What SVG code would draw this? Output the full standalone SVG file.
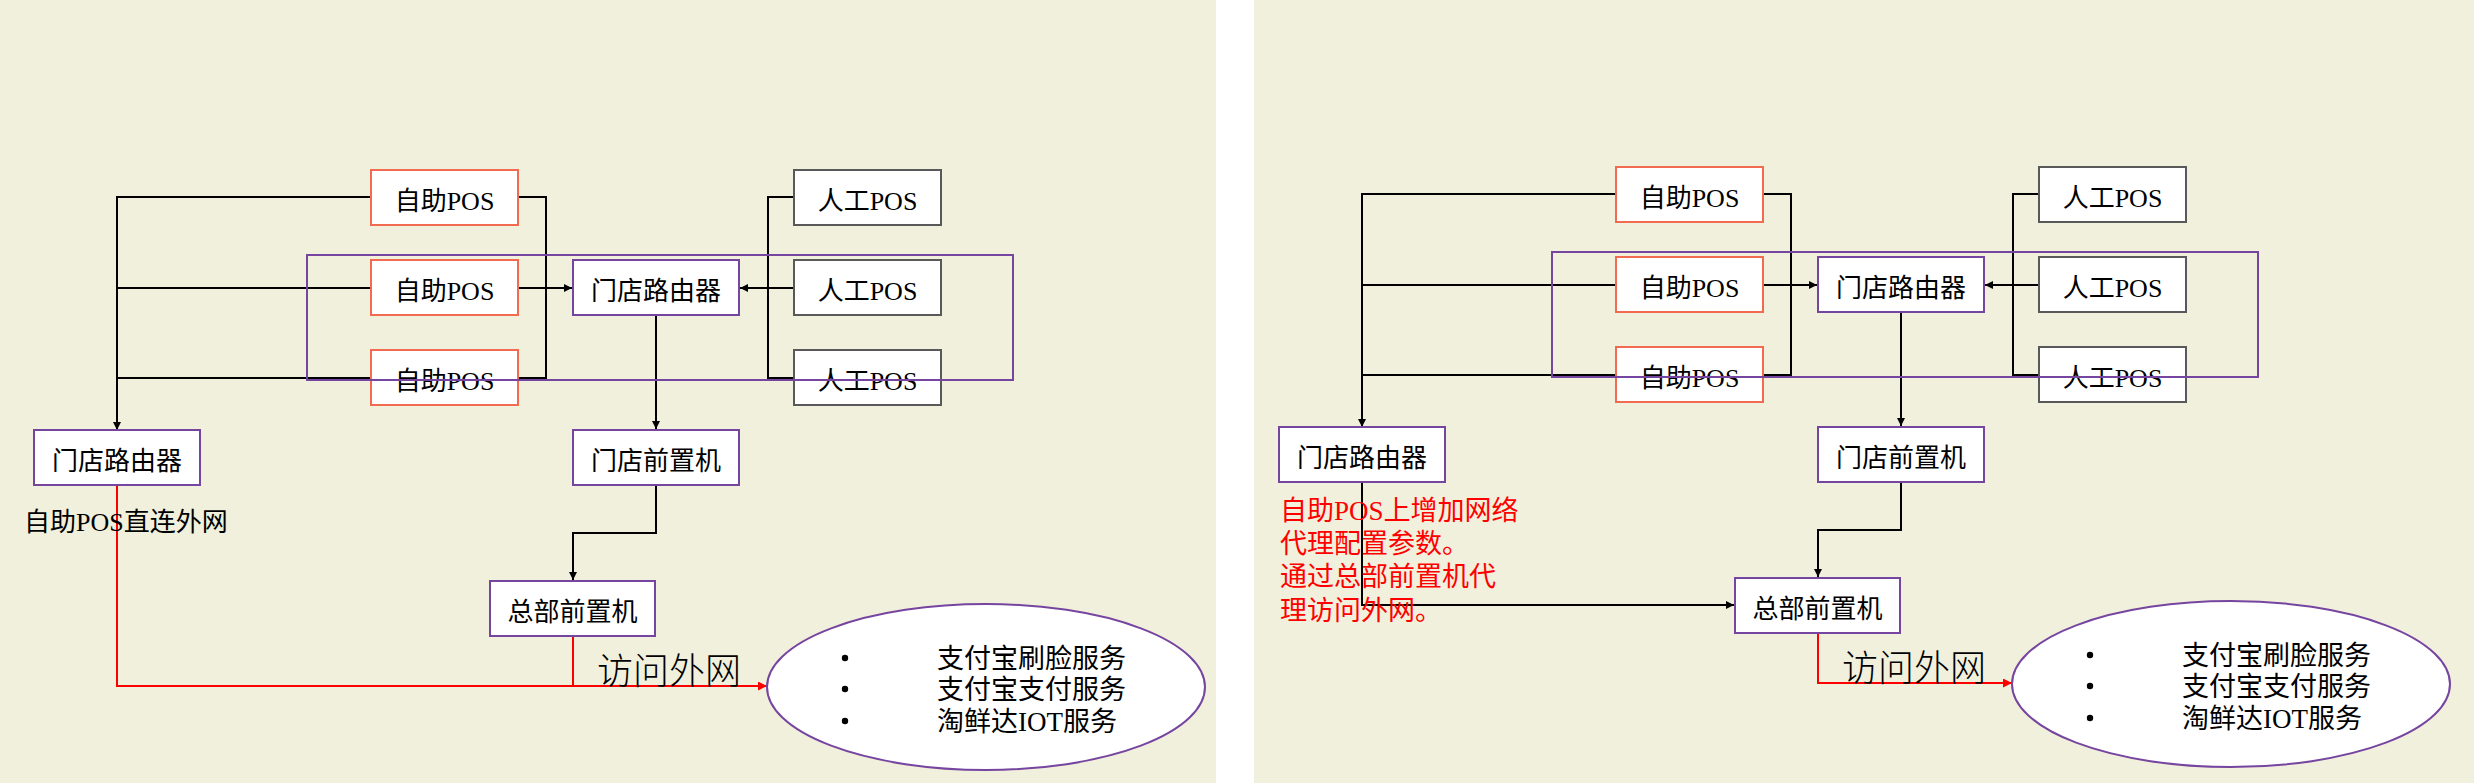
<svg xmlns="http://www.w3.org/2000/svg" width="2474" height="783" viewBox="0 0 2474 783">
<defs>
<style>
.bg{fill:#F1F0DC}
.self{fill:#fff;stroke:#F26B50;stroke-width:2}
.man{fill:#fff;stroke:#595959;stroke-width:2}
.pur{fill:#fff;stroke:#7645A0;stroke-width:2}
.grp{fill:none;stroke:#7645A0;stroke-width:2}
.ell{fill:#fff;stroke:#7645A0;stroke-width:2}
.c{fill:none;stroke:#000;stroke-width:2}
.cr{fill:none;stroke:#FF0000;stroke-width:2}
text{font-family:"Liberation Serif","Noto Sans CJK SC",serif;font-size:26px;fill:#000}
.ctr{text-anchor:middle}
.big{font-size:36px;font-weight:300}
.svc{font-size:27px}
.red{fill:#FF0000;font-size:27px}
</style>
<marker id="ab" viewBox="0 0 10 10" refX="10" refY="5" markerWidth="9" markerHeight="8" markerUnits="userSpaceOnUse" orient="auto"><path d="M0,0 L10,5 L0,10 z" fill="#000"/></marker>
<marker id="ar" viewBox="0 0 10 10" refX="10" refY="5" markerWidth="10" markerHeight="9" markerUnits="userSpaceOnUse" orient="auto"><path d="M0,0 L10,5 L0,10 z" fill="#FF0000"/></marker>
</defs>
<rect class="bg" x="0" y="0" width="1216" height="783"/>
<rect class="bg" x="1254" y="0" width="1220" height="783"/>

<!-- LEFT PANEL -->
<g id="left-panel">
<g id="L-connectors">
<path class="c" d="M371,197 H117 V430" marker-end="url(#ab)"/>
<path class="c" d="M371,288 H117"/>
<path class="c" d="M371,378 H117"/>
<path class="c" d="M518,197 H546 V378 H518"/>
<path class="c" d="M518,288 H572" marker-end="url(#ab)"/>
<path class="c" d="M794,197 H768 V378 H794"/>
<path class="c" d="M794,288 H740" marker-end="url(#ab)"/>
<path class="c" d="M656,315 V429" stroke-width="1.6" marker-end="url(#ab)"/>
<path class="c" d="M656,485 V533 H573 V580" marker-end="url(#ab)"/>
<path class="cr" d="M117,485 V686 H767" marker-end="url(#ar)"/>
<path class="cr" d="M573,636 V686"/>
</g>
<g id="L-selfpos1"><rect class="self" x="371" y="170" width="147" height="55"/><text class="ctr" x="444.5" y="210">自助POS</text></g>
<g id="L-selfpos2"><rect class="self" x="371" y="260" width="147" height="55"/><text class="ctr" x="444.5" y="300">自助POS</text></g>
<g id="L-selfpos3"><rect class="self" x="371" y="350" width="147" height="55"/><text class="ctr" x="444.5" y="390">自助POS</text></g>
<g id="L-manpos1"><rect class="man" x="794" y="170" width="147" height="55"/><text class="ctr" x="867.5" y="210">人工POS</text></g>
<g id="L-manpos2"><rect class="man" x="794" y="260" width="147" height="55"/><text class="ctr" x="867.5" y="300">人工POS</text></g>
<g id="L-manpos3"><rect class="man" x="794" y="350" width="147" height="55"/><text class="ctr" x="867.5" y="390">人工POS</text></g>
<g id="L-storerouter"><rect class="pur" x="573" y="260" width="166" height="55"/><text class="ctr" x="656" y="300">门店路由器</text></g>
<g id="L-group"><rect class="grp" x="307" y="255" width="706" height="125"/></g>
<g id="L-leftrouter"><rect class="pur" x="34" y="430" width="166" height="55"/><text class="ctr" x="117" y="470">门店路由器</text></g>
<g id="L-storefront"><rect class="pur" x="573" y="430" width="166" height="55"/><text class="ctr" x="656" y="470">门店前置机</text></g>
<g id="L-hqfront"><rect class="pur" x="490" y="581" width="165" height="55"/><text class="ctr" x="572.5" y="621">总部前置机</text></g>
<g id="L-services">
<ellipse class="ell" cx="986" cy="687" rx="219" ry="83"/>
<circle cx="845" cy="658" r="3.2"/><circle cx="845" cy="689" r="3.2"/><circle cx="845" cy="721" r="3.2"/>
<text class="svc" x="937" y="668">支付宝刷脸服务</text>
<text class="svc" x="937" y="699">支付宝支付服务</text>
<text class="svc" x="937" y="731">淘鲜达IOT服务</text>
</g>
<text x="24" y="531">自助POS直连外网</text>
<text class="big" x="597" y="684">访问外网</text>
</g>

<!-- RIGHT PANEL -->
<g id="right-panel" transform="translate(1245,-3)">
<g id="R-connectors">
<path class="c" d="M371,197 H117 V430" marker-end="url(#ab)"/>
<path class="c" d="M371,288 H117"/>
<path class="c" d="M371,378 H117"/>
<path class="c" d="M518,197 H546 V378 H518"/>
<path class="c" d="M518,288 H572" marker-end="url(#ab)"/>
<path class="c" d="M794,197 H768 V378 H794"/>
<path class="c" d="M794,288 H740" marker-end="url(#ab)"/>
<path class="c" d="M656,315 V429" stroke-width="1.6" marker-end="url(#ab)"/>
<path class="c" d="M656,485 V533 H573 V580" marker-end="url(#ab)"/>
<path class="c" d="M117,485 V608 H489" marker-end="url(#ab)"/>
<path class="cr" d="M573,636 V686 H767" marker-end="url(#ar)"/>
</g>
<g id="R-selfpos1"><rect class="self" x="371" y="170" width="147" height="55"/><text class="ctr" x="444.5" y="210">自助POS</text></g>
<g id="R-selfpos2"><rect class="self" x="371" y="260" width="147" height="55"/><text class="ctr" x="444.5" y="300">自助POS</text></g>
<g id="R-selfpos3"><rect class="self" x="371" y="350" width="147" height="55"/><text class="ctr" x="444.5" y="390">自助POS</text></g>
<g id="R-manpos1"><rect class="man" x="794" y="170" width="147" height="55"/><text class="ctr" x="867.5" y="210">人工POS</text></g>
<g id="R-manpos2"><rect class="man" x="794" y="260" width="147" height="55"/><text class="ctr" x="867.5" y="300">人工POS</text></g>
<g id="R-manpos3"><rect class="man" x="794" y="350" width="147" height="55"/><text class="ctr" x="867.5" y="390">人工POS</text></g>
<g id="R-storerouter"><rect class="pur" x="573" y="260" width="166" height="55"/><text class="ctr" x="656" y="300">门店路由器</text></g>
<g id="R-group"><rect class="grp" x="307" y="255" width="706" height="125"/></g>
<g id="R-leftrouter"><rect class="pur" x="34" y="430" width="166" height="55"/><text class="ctr" x="117" y="470">门店路由器</text></g>
<g id="R-storefront"><rect class="pur" x="573" y="430" width="166" height="55"/><text class="ctr" x="656" y="470">门店前置机</text></g>
<g id="R-hqfront"><rect class="pur" x="490" y="581" width="165" height="55"/><text class="ctr" x="572.5" y="621">总部前置机</text></g>
<g id="R-services">
<ellipse class="ell" cx="986" cy="687" rx="219" ry="83"/>
<circle cx="845" cy="658" r="3.2"/><circle cx="845" cy="689" r="3.2"/><circle cx="845" cy="721" r="3.2"/>
<text class="svc" x="937" y="668">支付宝刷脸服务</text>
<text class="svc" x="937" y="699">支付宝支付服务</text>
<text class="svc" x="937" y="731">淘鲜达IOT服务</text>
</g>
<g id="R-note">
<text class="red" x="35" y="523">自助POS上增加网络</text>
<text class="red" x="35" y="556">代理配置参数。</text>
<text class="red" x="35" y="589">通过总部前置机代</text>
<text class="red" x="35" y="623">理访问外网。</text>
</g>
<text class="big" x="597" y="684">访问外网</text>
</g>
</svg>
